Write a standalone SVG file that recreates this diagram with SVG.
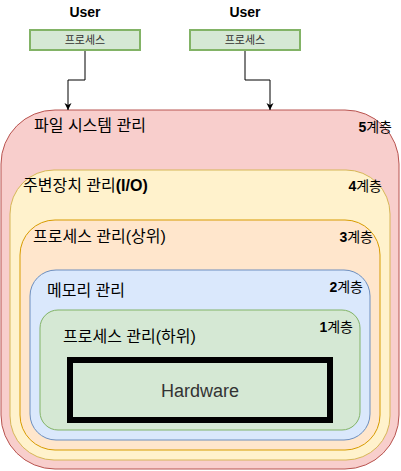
<svg xmlns="http://www.w3.org/2000/svg" width="401" height="471" viewBox="0 0 401 471">
<defs>
<marker id="arr" viewBox="0 0 10 10" refX="10" refY="5" markerWidth="7" markerHeight="8" markerUnits="userSpaceOnUse" orient="auto">
<path d="M0,0 L10,5 L0,10 L3,5 Z" fill="#000"/>
</marker>
<style>
text{font-family:"Liberation Sans","Noto Sans CJK KR",sans-serif;fill:#000}
.t{font-size:16px}
.b{font-weight:bold}
.lv{font-size:14px;text-anchor:end}
.small{font-size:11px;fill:#333;text-anchor:middle}
.user{font-size:14px;font-weight:bold;text-anchor:middle}
.proc{fill:#d5e8d4;stroke:#82b366;stroke-width:2}
.conn{fill:none;stroke:#000;stroke-width:1}
</style>
</defs>
<g id="user1">
<text class="user" x="85" y="17">User</text>
</g>
<g id="user2">
<text class="user" x="245" y="17">User</text>
</g>
<g id="proc1">
<rect class="proc" x="30" y="30" width="110" height="20"/>
<text class="small" x="85" y="44">프로세스</text>
</g>
<g id="proc2">
<rect class="proc" x="190" y="30" width="110" height="20"/>
<text class="small" x="245" y="44">프로세스</text>
</g>
<g id="layer5">
<rect x="1" y="110" width="398" height="359" rx="54" ry="54" fill="#f8cecc" stroke="#b85450"/>
<text class="t" x="34" y="131">파일 시스템 관리</text>
<text class="lv" x="392" y="132"><tspan class="b">5</tspan>계층</text>
</g>
<g id="layer4">
<rect x="10" y="170" width="380" height="290" rx="44" ry="44" fill="#fff2cc" stroke="#d6b656"/>
<text class="t" x="23" y="191">주변장치 관리<tspan class="b">(I/O)</tspan></text>
<text class="lv" x="382" y="191"><tspan class="b">4</tspan>계층</text>
</g>
<g id="layer3">
<rect x="20" y="220" width="360" height="230" rx="35" ry="35" fill="#ffe6cc" stroke="#d79b00"/>
<text class="t" x="33" y="242">프로세스 관리(상위)</text>
<text class="lv" x="373" y="242"><tspan class="b">3</tspan>계층</text>
</g>
<g id="layer2">
<rect x="30" y="270" width="340" height="170" rx="26" ry="26" fill="#dae8fc" stroke="#6c8ebf"/>
<text class="t" x="47" y="296">메모리 관리</text>
<text class="lv" x="363" y="292"><tspan class="b">2</tspan>계층</text>
</g>
<g id="layer1">
<rect x="40" y="310" width="320" height="120" rx="18" ry="18" fill="#d5e8d4" stroke="#82b366"/>
<text class="t" x="63" y="342">프로세스 관리(하위)</text>
<text class="lv" x="353" y="332"><tspan class="b">1</tspan>계층</text>
</g>
<g id="hardware">
<rect x="70" y="360" width="260" height="60" fill="#d5e8d4" stroke="#000" stroke-width="6"/>
<text x="200" y="397" font-size="18" text-anchor="middle" style="fill:#333">Hardware</text>
</g>
<g id="connectors">
<path class="conn" d="M85,51 L85,80 L68,80 L68,110" marker-end="url(#arr)"/>
<path class="conn" d="M245,51 L245,80 L270,80 L270,110" marker-end="url(#arr)"/>
</g>
</svg>
